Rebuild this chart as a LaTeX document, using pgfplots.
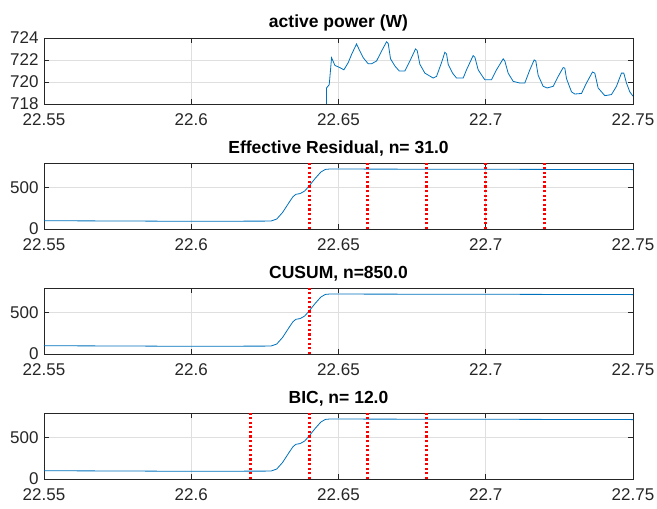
\documentclass[border=0pt]{standalone}
\usepackage{fontspec}
\setmainfont{Liberation Sans}
\usepackage{pgfplots}
\pgfplotsset{compat=1.18}
\definecolor{mblue}{HTML}{0072BD}
\definecolor{axgray}{HTML}{262626}
\definecolor{gridgray}{HTML}{DFDFDF}

\pgfplotsset{
  panel/.style={
    width=589pt,height=66pt,scale only axis,
    xmin=22.55,xmax=22.75,
    xtick={22.55,22.6,22.65,22.7,22.75},
    xticklabels={22.55,22.6,22.65,22.7,22.75},
    tick pos=both,tick align=inside,major tick length=5pt,
    xticklabel pos=bottom,yticklabel pos=left,
    grid=major,grid style={gridgray,line width=0.6pt},
    axis line style={axgray,line width=0.7pt},
    tick style={axgray,line width=0.7pt},
    ticklabel style={font=\fontsize{17}{20}\selectfont,text=axgray},
    xticklabel style={yshift=-6pt},
    yticklabel style={xshift=-2pt},
    /pgf/number format/assume math mode=true,
    title style={font=\fontsize{17.5}{20}\selectfont\bfseries,yshift=-3pt},
    every axis plot/.append style={line width=0.8pt},
  },
  lower/.style={panel,ymin=0,ymax=800,ytick={0,500}},
  cp/.style={red,line width=3pt,dash pattern=on 2.3pt off 2.3pt},
}

\pgfplotstableread{
x y
22.55 100
22.57 98
22.59 95
22.60 94
22.615 95
22.627 96
22.629 120
22.631 200
22.633 310
22.6345 390
22.6355 420
22.637 430
22.6385 460
22.640 520
22.642 610
22.644 690
22.6455 722
22.647 727
22.66 726
22.70 724
22.75 720
}\sigtab

\begin{document}
\begin{tikzpicture}
\useasboundingbox (-44pt,38pt) rectangle (613pt,-471pt);
\begin{axis}[panel,at={(0,0)},anchor=north west,
  ymin=718,ymax=724,ytick={718,720,722,724},title={active power (W)}]
\addplot[mblue] coordinates {
(22.55,100) (22.6455,100) (22.64595,719.45) (22.64685,719.75) (22.64765,722.2)
(22.64878,721.5) (22.65047,721.3) (22.65183,721.1) (22.6533,721.75) (22.65444,722.5)
(22.65613,723.45) (22.65726,722.8) (22.65839,722.2) (22.66009,721.65) (22.66122,721.65)
(22.66292,721.9) (22.66462,722.8) (22.66632,723.65) (22.66688,723.5) (22.66767,722.1)
(22.66914,721.45) (22.67061,721.0) (22.67254,721.0) (22.67424,721.9) (22.67616,723.0)
(22.67672,722.85) (22.67763,721.6) (22.67933,720.8) (22.68215,720.35) (22.68329,720.5)
(22.68498,721.75) (22.68612,722.7) (22.68668,722.55) (22.68725,721.6) (22.68872,720.8)
(22.69008,720.35) (22.69234,720.35) (22.69347,721.1) (22.69573,722.4) (22.6963,722.25)
(22.69743,721.1) (22.6989,720.5) (22.69969,720.2) (22.70196,720.2) (22.70365,721.1)
(22.70592,722.1) (22.70648,721.9) (22.70761,720.8) (22.70931,720.05) (22.71157,719.9)
(22.71327,719.9) (22.71497,721.1) (22.71644,722.0) (22.717,721.9) (22.7178,720.6)
(22.71949,719.6) (22.72085,719.45) (22.72289,719.6) (22.72459,720.5) (22.72628,721.3)
(22.72685,721.25) (22.72742,720.3) (22.72911,719.1) (22.73024,718.9) (22.73251,718.95)
(22.7342,719.9) (22.73624,720.9) (22.73703,720.8) (22.73816,719.45) (22.74043,718.75)
(22.74269,718.85) (22.74439,719.6) (22.74608,720.8) (22.74687,720.8) (22.74778,719.9)
(22.74891,719.1) (22.75,718.7)};
\end{axis}

\begin{axis}[lower,at={(0,-125pt)},anchor=north west,
  title={Effective Residual, n= 31.0}]
\addplot[mblue] table[x=x,y=y]{\sigtab};
\addplot[cp] coordinates {(22.64,0) (22.64,800)};
\addplot[cp] coordinates {(22.66,0) (22.66,800)};
\addplot[cp] coordinates {(22.68,0) (22.68,800)};
\addplot[cp] coordinates {(22.70,0) (22.70,800)};
\addplot[cp] coordinates {(22.72,0) (22.72,800)};
\end{axis}

\begin{axis}[lower,at={(0,-250pt)},anchor=north west,
  title={CUSUM, n=850.0}]
\addplot[mblue] table[x=x,y=y]{\sigtab};
\addplot[cp] coordinates {(22.64,0) (22.64,800)};
\end{axis}

\begin{axis}[lower,at={(0,-375pt)},anchor=north west,
  title={BIC, n= 12.0}]
\addplot[mblue] table[x=x,y=y]{\sigtab};
\addplot[cp] coordinates {(22.62,0) (22.62,800)};
\addplot[cp] coordinates {(22.64,0) (22.64,800)};
\addplot[cp] coordinates {(22.66,0) (22.66,800)};
\addplot[cp] coordinates {(22.68,0) (22.68,800)};
\end{axis}
\end{tikzpicture}
\end{document}
